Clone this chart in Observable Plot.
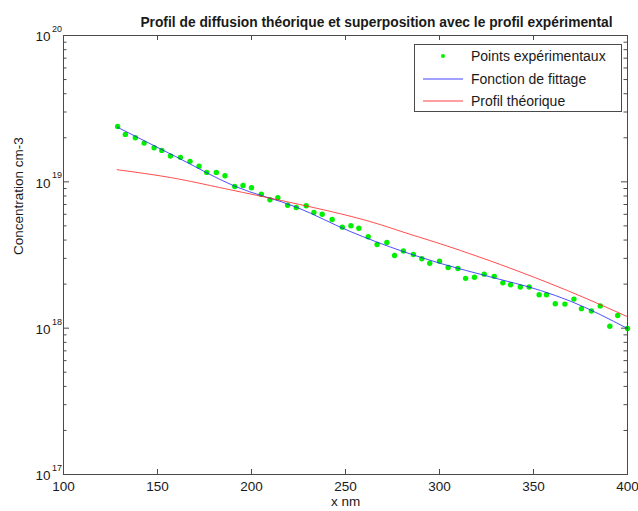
<!DOCTYPE html>
<html><head><meta charset="utf-8">
<script src="https://cdn.jsdelivr.net/npm/d3@7"></script>
<script src="https://cdn.jsdelivr.net/npm/@observablehq/plot@0.6"></script>
<style>body{margin:0;background:#fff} svg{display:block}</style>
</head><body><div id="chart"></div><script>
// Experimental points: depth (nm) and concentration (cm-3)
const expX = [128.8,132.9,138.2,142.9,148.2,152.3,156.9,162.2,167.3,172.1,176.2,181.3,185.9,191.1,195.5,200.0,205.2,209.8,214.0,219.2,223.8,229.1,233.2,237.6,242.9,248.3,252.9,257.1,262.1,266.8,272.0,276.1,280.8,286.1,290.6,294.8,300.0,304.6,309.8,313.9,318.6,323.8,329.1,333.7,337.8,343.0,347.7,353.0,356.9,361.6,366.7,371.5,375.5,380.8,385.5,390.6,394.8,400.0];
const expC = [2.39e19,2.11e19,2.00e19,1.84e19,1.71e19,1.64e19,1.50e19,1.47e19,1.38e19,1.28e19,1.16e19,1.16e19,1.10e19,9.29e18,9.44e18,9.12e18,8.23e18,7.54e18,7.79e18,6.92e18,6.68e18,6.86e18,6.17e18,6.01e18,5.53e18,4.90e18,5.01e18,4.82e18,4.21e18,3.73e18,3.85e18,3.14e18,3.37e18,3.19e18,2.98e18,2.78e18,2.87e18,2.60e18,2.56e18,2.19e18,2.23e18,2.34e18,2.26e18,2.04e18,1.98e18,1.91e18,1.91e18,1.69e18,1.69e18,1.47e18,1.46e18,1.58e18,1.36e18,1.31e18,1.42e18,1.03e18,1.22e18,9.95e17];
// Fitting function
const fitX = [128.7,159.6,190.8,224.3,252.5,279.2,300.5,327.1,353.7,369.6,400.0];
const fitC = [2.36e19,1.49e19,9.37e18,6.68e18,4.58e18,3.39e18,2.77e18,2.24e18,1.81e18,1.53e18,9.95e17];
// Theoretical profile
const theoX = [128.6,156.9,188.8,247.3,279.2,300.5,332.4,367.9,399.9];
const theoC = [1.21e19,1.07e19,8.82e18,6.05e18,4.60e18,3.77e18,2.72e18,1.81e18,1.20e18];
// Axes
const xTicks = [100,150,200,250,300,350,400];
const yTicks = [1e17,1e18,1e19,1e20];
const yExp = [17,18,19,20];
const yMinor = [2e17,3e17,4e17,5e17,6e17,7e17,8e17,9e17,2e18,3e18,4e18,5e18,6e18,7e18,8e18,9e18,2e19,3e19,4e19,5e19,6e19,7e19,8e19,9e19];
const title = "Profil de diffusion théorique et superposition avec le profil expérimental";
const xLabel = "x nm";
const yLabel = "Concentration cm-3";
const legendLabels = ["Points expérimentaux","Fonction de fittage","Profil théorique"];

const expData = expX.map((x,i)=>({x, c: expC[i]}));
const fitData = fitX.map((x,i)=>({x, c: fitC[i]}));
const theoData = theoX.map((x,i)=>({x, c: theoC[i]}));
const yTickData = yTicks.map((v,i)=>({v, e: yExp[i]}));

const W=638,H=511,mL=63,mR=11,mT=35,mB=37;
const iw=W-mL-mR, ih=H-mT-mB;
const font="'Liberation Sans', Arial, sans-serif";
const axisColor="#4a4a4a";
const txt="#1a1a1a";

const chart = Plot.plot({
  width:W, height:H, marginLeft:mL, marginRight:mR, marginTop:mT, marginBottom:mB,
  style:{fontFamily:font, background:"#fff", color:txt, overflow:"visible"},
  x:{domain:[100,400], axis:null},
  y:{type:"log", domain:[1e17,1e20], axis:null},
  marks:[
    Plot.dot(expData,{x:"x", y:"c", r:2.7, fill:"#00f000"}),
    Plot.line(fitData,{x:"x", y:"c", stroke:"#2222ff", strokeWidth:1, strokeOpacity:0.8, curve:"monotone-x"}),
    Plot.line(theoData,{x:"x", y:"c", stroke:"#ff2020", strokeWidth:1, strokeOpacity:0.8, curve:"natural"}),
    Plot.frame({stroke:axisColor}),
    Plot.tickX(xTicks,{x:d=>d, stroke:axisColor, insetTop:ih-5}),
    Plot.tickX(xTicks,{x:d=>d, stroke:axisColor, insetBottom:ih-5}),
    Plot.tickY(yTicks,{y:d=>d, stroke:axisColor, insetRight:iw-6}),
    Plot.tickY(yTicks,{y:d=>d, stroke:axisColor, insetLeft:iw-6}),
    Plot.tickY(yMinor,{y:d=>d, stroke:axisColor, insetRight:iw-3.5}),
    Plot.tickY(yMinor,{y:d=>d, stroke:axisColor, insetLeft:iw-3.5}),
    Plot.text(xTicks,{x:d=>d, text:d=>String(d), frameAnchor:"bottom", lineAnchor:"top", dy:7, fontSize:13.5, fill:txt}),
    Plot.text(yTickData,{y:"v", text:()=>"10", frameAnchor:"left", textAnchor:"end", dx:-13, dy:1.5, fontSize:13.5, fill:txt}),
    Plot.text(yTickData,{y:"v", text:d=>String(d.e), frameAnchor:"left", textAnchor:"start", dx:-11.5, dy:-6.5, fontSize:9, fill:txt}),
    Plot.text([xLabel],{frameAnchor:"bottom", dy:31, fontSize:13.5, fill:txt}),
    Plot.text([yLabel],{frameAnchor:"left", dx:-45, rotate:-90, fontSize:13.5, fill:txt}),
    Plot.text([title],{frameAnchor:"top", dx:31, dy:-18, fontSize:13.8, fontWeight:"bold", fill:txt})
  ]
});

// Legend
const svg = d3.select(chart);
const lg = svg.append("g").attr("font-family", font).attr("font-size", 14).attr("fill", txt).attr("text-anchor","start");
lg.append("rect").attr("x",414.5).attr("y",44.5).attr("width",207).attr("height",67)
  .attr("fill","#fff").attr("stroke",axisColor);
const rows = [56, 79, 101];
lg.append("circle").attr("cx",443).attr("cy",rows[0]).attr("r",2).attr("fill","#00f000");
lg.append("line").attr("x1",423).attr("x2",463).attr("y1",rows[1]).attr("y2",rows[1]).attr("stroke","#2222ff").attr("stroke-opacity",0.85);
lg.append("line").attr("x1",423).attr("x2",463).attr("y1",rows[2]).attr("y2",rows[2]).attr("stroke","#ff2020").attr("stroke-opacity",0.85);
legendLabels.forEach((t,i)=>{
  lg.append("text").attr("x",471).attr("y",rows[i]).attr("dy","0.35em").attr("text-anchor","start").text(t);
});

document.getElementById("chart").appendChild(chart);
</script></body></html>
